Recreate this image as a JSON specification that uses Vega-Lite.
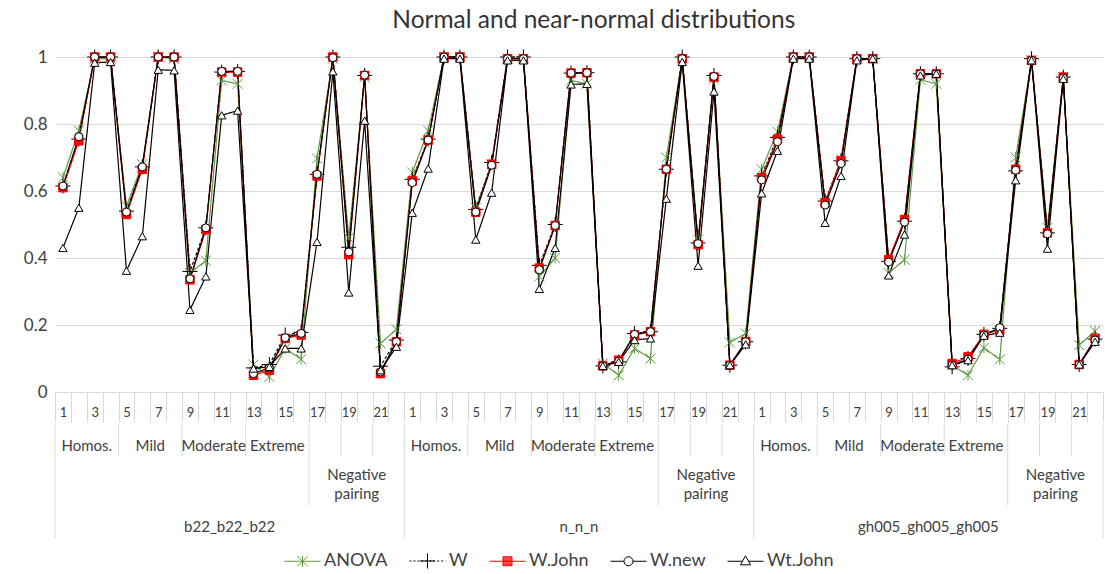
{
  "$schema": "https://vega.github.io/schema/vega-lite/v6.json",
  "padding": {"left": 5, "top": 8, "right": 0, "bottom": 0},
  "title": {"text": "Normal and near-normal distributions", "font": "Lato", "fontSize": 24.5, "fontWeight": "normal", "color": "#333333", "anchor": "middle", "dx": 39, "offset": 14},
  "datasets": {
    "vals": [
      {"idx":1,"ANOVA":0.64,"W":0.615,"WJohn":0.61,"Wnew":0.615,"WtJohn":0.43},
      {"idx":2,"ANOVA":0.78,"W":0.755,"WJohn":0.75,"Wnew":0.762,"WtJohn":0.55},
      {"idx":3,"ANOVA":0.995,"W":1,"WJohn":1,"Wnew":1,"WtJohn":0.983},
      {"idx":4,"ANOVA":0.995,"W":1,"WJohn":1,"Wnew":1,"WtJohn":0.985},
      {"idx":5,"ANOVA":0.555,"W":0.54,"WJohn":0.53,"Wnew":0.537,"WtJohn":0.362},
      {"idx":6,"ANOVA":0.68,"W":0.672,"WJohn":0.665,"Wnew":0.672,"WtJohn":0.465},
      {"idx":7,"ANOVA":1,"W":1,"WJohn":1,"Wnew":1,"WtJohn":0.962},
      {"idx":8,"ANOVA":0.995,"W":1,"WJohn":1,"Wnew":1,"WtJohn":0.96},
      {"idx":9,"ANOVA":0.355,"W":0.36,"WJohn":0.335,"Wnew":0.338,"WtJohn":0.245},
      {"idx":10,"ANOVA":0.392,"W":0.49,"WJohn":0.485,"Wnew":0.49,"WtJohn":0.345},
      {"idx":11,"ANOVA":0.93,"W":0.955,"WJohn":0.955,"Wnew":0.957,"WtJohn":0.826},
      {"idx":12,"ANOVA":0.92,"W":0.957,"WJohn":0.955,"Wnew":0.957,"WtJohn":0.84},
      {"idx":13,"ANOVA":0.082,"W":0.072,"WJohn":0.05,"Wnew":0.055,"WtJohn":0.07},
      {"idx":14,"ANOVA":0.045,"W":0.082,"WJohn":0.065,"Wnew":0.072,"WtJohn":0.075},
      {"idx":15,"ANOVA":0.13,"W":0.17,"WJohn":0.16,"Wnew":0.162,"WtJohn":0.13},
      {"idx":16,"ANOVA":0.098,"W":0.178,"WJohn":0.17,"Wnew":0.175,"WtJohn":0.13},
      {"idx":17,"ANOVA":0.697,"W":0.65,"WJohn":0.645,"Wnew":0.65,"WtJohn":0.448},
      {"idx":18,"ANOVA":0.995,"W":1,"WJohn":1,"Wnew":0.998,"WtJohn":0.957},
      {"idx":19,"ANOVA":0.46,"W":0.432,"WJohn":0.41,"Wnew":0.418,"WtJohn":0.297},
      {"idx":20,"ANOVA":0.94,"W":0.945,"WJohn":0.945,"Wnew":0.946,"WtJohn":0.81},
      {"idx":21,"ANOVA":0.145,"W":0.077,"WJohn":0.055,"Wnew":0.06,"WtJohn":0.065},
      {"idx":22,"ANOVA":0.187,"W":0.155,"WJohn":0.15,"Wnew":0.15,"WtJohn":0.135},
      {"idx":23,"ANOVA":0.655,"W":0.635,"WJohn":0.63,"Wnew":0.625,"WtJohn":0.535},
      {"idx":24,"ANOVA":0.78,"W":0.755,"WJohn":0.752,"Wnew":0.752,"WtJohn":0.667},
      {"idx":25,"ANOVA":1,"W":1,"WJohn":1,"Wnew":1,"WtJohn":0.995},
      {"idx":26,"ANOVA":1,"W":1,"WJohn":1,"Wnew":1,"WtJohn":0.995},
      {"idx":27,"ANOVA":0.55,"W":0.545,"WJohn":0.537,"Wnew":0.537,"WtJohn":0.455},
      {"idx":28,"ANOVA":0.68,"W":0.685,"WJohn":0.68,"Wnew":0.677,"WtJohn":0.595},
      {"idx":29,"ANOVA":0.995,"W":1,"WJohn":0.995,"Wnew":0.995,"WtJohn":0.99},
      {"idx":30,"ANOVA":0.995,"W":1,"WJohn":0.995,"Wnew":0.995,"WtJohn":0.99},
      {"idx":31,"ANOVA":0.345,"W":0.378,"WJohn":0.37,"Wnew":0.365,"WtJohn":0.308},
      {"idx":32,"ANOVA":0.4,"W":0.5,"WJohn":0.497,"Wnew":0.497,"WtJohn":0.43},
      {"idx":33,"ANOVA":0.93,"W":0.952,"WJohn":0.952,"Wnew":0.952,"WtJohn":0.918},
      {"idx":34,"ANOVA":0.92,"W":0.953,"WJohn":0.953,"Wnew":0.953,"WtJohn":0.92},
      {"idx":35,"ANOVA":0.085,"W":0.078,"WJohn":0.078,"Wnew":0.078,"WtJohn":0.078},
      {"idx":36,"ANOVA":0.05,"W":0.09,"WJohn":0.095,"Wnew":0.092,"WtJohn":0.09},
      {"idx":37,"ANOVA":0.13,"W":0.175,"WJohn":0.17,"Wnew":0.172,"WtJohn":0.155},
      {"idx":38,"ANOVA":0.1,"W":0.18,"WJohn":0.18,"Wnew":0.18,"WtJohn":0.16},
      {"idx":39,"ANOVA":0.7,"W":0.665,"WJohn":0.665,"Wnew":0.665,"WtJohn":0.577},
      {"idx":40,"ANOVA":0.995,"W":1,"WJohn":0.995,"Wnew":0.995,"WtJohn":0.985},
      {"idx":41,"ANOVA":0.455,"W":0.445,"WJohn":0.44,"Wnew":0.443,"WtJohn":0.377},
      {"idx":42,"ANOVA":0.935,"W":0.945,"WJohn":0.94,"Wnew":0.942,"WtJohn":0.897},
      {"idx":43,"ANOVA":0.148,"W":0.08,"WJohn":0.08,"Wnew":0.08,"WtJohn":0.08},
      {"idx":44,"ANOVA":0.175,"W":0.15,"WJohn":0.15,"Wnew":0.15,"WtJohn":0.142},
      {"idx":45,"ANOVA":0.665,"W":0.645,"WJohn":0.64,"Wnew":0.633,"WtJohn":0.593},
      {"idx":46,"ANOVA":0.777,"W":0.76,"WJohn":0.755,"Wnew":0.747,"WtJohn":0.72},
      {"idx":47,"ANOVA":1,"W":1,"WJohn":1,"Wnew":1,"WtJohn":0.995},
      {"idx":48,"ANOVA":1,"W":1,"WJohn":1,"Wnew":1,"WtJohn":0.995},
      {"idx":49,"ANOVA":0.565,"W":0.57,"WJohn":0.565,"Wnew":0.558,"WtJohn":0.505},
      {"idx":50,"ANOVA":0.695,"W":0.69,"WJohn":0.69,"Wnew":0.682,"WtJohn":0.645},
      {"idx":51,"ANOVA":0.995,"W":0.995,"WJohn":0.995,"Wnew":0.995,"WtJohn":0.99},
      {"idx":52,"ANOVA":0.995,"W":0.995,"WJohn":0.995,"Wnew":0.995,"WtJohn":0.995},
      {"idx":53,"ANOVA":0.355,"W":0.39,"WJohn":0.395,"Wnew":0.388,"WtJohn":0.348},
      {"idx":54,"ANOVA":0.395,"W":0.51,"WJohn":0.515,"Wnew":0.507,"WtJohn":0.47},
      {"idx":55,"ANOVA":0.932,"W":0.95,"WJohn":0.95,"Wnew":0.95,"WtJohn":0.945},
      {"idx":56,"ANOVA":0.92,"W":0.95,"WJohn":0.95,"Wnew":0.95,"WtJohn":0.95},
      {"idx":57,"ANOVA":0.08,"W":0.075,"WJohn":0.085,"Wnew":0.08,"WtJohn":0.08},
      {"idx":58,"ANOVA":0.05,"W":0.1,"WJohn":0.105,"Wnew":0.098,"WtJohn":0.095},
      {"idx":59,"ANOVA":0.132,"W":0.172,"WJohn":0.172,"Wnew":0.17,"WtJohn":0.168},
      {"idx":60,"ANOVA":0.097,"W":0.19,"WJohn":0.185,"Wnew":0.192,"WtJohn":0.177},
      {"idx":61,"ANOVA":0.7,"W":0.66,"WJohn":0.665,"Wnew":0.662,"WtJohn":0.632},
      {"idx":62,"ANOVA":0.99,"W":0.995,"WJohn":0.99,"Wnew":0.99,"WtJohn":0.99},
      {"idx":63,"ANOVA":0.49,"W":0.475,"WJohn":0.475,"Wnew":0.472,"WtJohn":0.428},
      {"idx":64,"ANOVA":0.94,"W":0.94,"WJohn":0.94,"Wnew":0.937,"WtJohn":0.935},
      {"idx":65,"ANOVA":0.14,"W":0.082,"WJohn":0.082,"Wnew":0.082,"WtJohn":0.082},
      {"idx":66,"ANOVA":0.182,"W":0.158,"WJohn":0.16,"Wnew":0.155,"WtJohn":0.15}
    ],
    "cats": [
      {"kind":"sep","idx":1,"depth":3.5},{"kind":"sep","idx":5,"depth":1},{"kind":"sep","idx":9,"depth":1},{"kind":"sep","idx":13,"depth":1},{"kind":"sep","idx":17,"depth":2.5},{"kind":"sep","idx":19,"depth":1},{"kind":"sep","idx":21,"depth":1},
      {"kind":"sep","idx":23,"depth":3.5},{"kind":"sep","idx":27,"depth":1},{"kind":"sep","idx":31,"depth":1},{"kind":"sep","idx":35,"depth":1},{"kind":"sep","idx":39,"depth":2.5},{"kind":"sep","idx":41,"depth":1},{"kind":"sep","idx":43,"depth":1},
      {"kind":"sep","idx":45,"depth":3.5},{"kind":"sep","idx":49,"depth":1},{"kind":"sep","idx":53,"depth":1},{"kind":"sep","idx":57,"depth":1},{"kind":"sep","idx":61,"depth":2.5},{"kind":"sep","idx":63,"depth":1},{"kind":"sep","idx":65,"depth":1},
      {"kind":"end","idx":66,"depth":3.5},
      {"kind":"lab","idx":3,"depth":1,"label":"Homos."},{"kind":"lab","idx":7,"depth":1,"label":"Mild"},{"kind":"lab","idx":11,"depth":1,"label":"Moderate"},{"kind":"lab","idx":15,"depth":1,"label":"Extreme"},{"kind":"lab","idx":20,"depth":2.5,"label":"Negative\npairing"},{"kind":"lab","idx":12,"depth":3.5,"label":"b22_b22_b22"},
      {"kind":"lab","idx":25,"depth":1,"label":"Homos."},{"kind":"lab","idx":29,"depth":1,"label":"Mild"},{"kind":"lab","idx":33,"depth":1,"label":"Moderate"},{"kind":"lab","idx":37,"depth":1,"label":"Extreme"},{"kind":"lab","idx":42,"depth":2.5,"label":"Negative\npairing"},{"kind":"lab","idx":34,"depth":3.5,"label":"n_n_n"},
      {"kind":"lab","idx":47,"depth":1,"label":"Homos."},{"kind":"lab","idx":51,"depth":1,"label":"Mild"},{"kind":"lab","idx":55,"depth":1,"label":"Moderate"},{"kind":"lab","idx":59,"depth":1,"label":"Extreme"},{"kind":"lab","idx":64,"depth":2.5,"label":"Negative\npairing"},{"kind":"lab","idx":56,"depth":3.5,"label":"gh005_gh005_gh005"}
    ]
  },
  "spacing": 0,
  "resolve": {"scale": {"color": "independent", "fill": "independent", "shape": "independent", "size": "independent", "strokeDash": "independent"}},
  "vconcat": [
    {
      "width": 1048,
      "height": 335,
      "data": {"name": "vals"},
      "transform": [{"fold": ["ANOVA", "W", "WJohn", "Wnew", "WtJohn"], "as": ["series", "value"]}],
      "encoding": {
        "x": {
          "field": "idx", "type": "ordinal",
          "scale": {"type": "band", "paddingInner": 0, "paddingOuter": 0},
          "axis": {
            "title": null, "orient": "bottom", "tickBand": "extent", "tickSize": 30, "tickColor": "#d9d9d9", "tickWidth": 1,
            "domainColor": "#d9d9d9", "grid": false, "labelAngle": 0, "labelOverlap": false,
            "labelExpr": "(datum.value - 1) % 22 % 2 == 0 ? '' + ((datum.value - 1) % 22 + 1) : ''",
            "labelFont": "Lato", "labelFontSize": 13, "labelColor": "#404040", "labelPadding": -16,
            "minExtent": 30, "maxExtent": 30
          }
        },
        "y": {
          "field": "value", "type": "quantitative",
          "scale": {"domain": [0, 1], "nice": false},
          "axis": {
            "title": null, "values": [0, 0.2, 0.4, 0.6, 0.8, 1], "format": "~g", "grid": true, "gridColor": "#d9d9d9",
            "domain": false, "ticks": false, "labelFont": "Lato", "labelFontSize": 17, "labelColor": "#404040",
            "labelPadding": 8, "minExtent": 50, "maxExtent": 50
          }
        },
        "color": {
          "field": "series", "type": "nominal",
          "scale": {"domain": ["ANOVA", "W", "WJohn", "Wnew", "WtJohn"], "range": ["#5c9b42", "#000000", "#ff0000", "#000000", "#000000"]},
          "legend": null
        }
      },
      "layer": [
        {
          "mark": {"type": "line", "strokeWidth": 1.2},
          "encoding": {
            "strokeDash": {
              "field": "series", "type": "nominal",
              "scale": {"domain": ["ANOVA", "W", "WJohn", "Wnew", "WtJohn"], "range": [[1, 0], [3, 2], [1, 0], [1, 0], [1, 0]]},
              "legend": null
            }
          }
        },
        {
          "mark": {"type": "point", "filled": false, "strokeWidth": 1, "opacity": 1},
          "encoding": {
            "shape": {
              "field": "series", "type": "nominal",
              "scale": {"domain": ["ANOVA", "W", "WJohn", "Wnew", "WtJohn"], "range": ["M-1,-1L1,1M-1,1L1,-1M0,-1.1V1.1", "M-1,0H1M0,-1V1", "square", "circle", "triangle-up"]},
              "legend": null
            },
            "size": {
              "field": "series", "type": "nominal",
              "scale": {"type": "ordinal", "domain": ["ANOVA", "W", "WJohn", "Wnew", "WtJohn"], "range": [100, 225, 72, 64, 70]},
              "legend": null
            },
            "fill": {
              "field": "series", "type": "nominal",
              "scale": {"domain": ["ANOVA", "W", "WJohn", "Wnew", "WtJohn"], "range": ["transparent", "transparent", "#ff0000", "#ffffff", "#ffffff"]},
              "legend": null
            }
          }
        }
      ]
    },
    {
      "width": 1048,
      "height": 114,
      "encoding": {
        "x": {
          "field": "idx", "type": "ordinal",
          "scale": {"type": "band", "paddingInner": 0, "paddingOuter": 0, "domain": [1,2,3,4,5,6,7,8,9,10,11,12,13,14,15,16,17,18,19,20,21,22,23,24,25,26,27,28,29,30,31,32,33,34,35,36,37,38,39,40,41,42,43,44,45,46,47,48,49,50,51,52,53,54,55,56,57,58,59,60,61,62,63,64,65,66]},
          "axis": null
        }
      },
      "layer": [
        {
          "data": {"name": "cats"},
          "transform": [{"filter": "datum.kind === 'sep'"}],
          "mark": {"type": "rule", "color": "#d9d9d9", "strokeWidth": 1},
          "encoding": {
            "x": {"field": "idx", "type": "ordinal", "bandPosition": 0, "axis": null},
            "y": {"field": "depth", "type": "quantitative", "scale": {"domain": [0, 3.5], "reverse": true, "nice": false, "zero": false}, "axis": null},
            "y2": {"datum": 0}
          }
        },
        {
          "data": {"name": "cats"},
          "transform": [{"filter": "datum.kind === 'end'"}],
          "mark": {"type": "rule", "color": "#d9d9d9", "strokeWidth": 1},
          "encoding": {
            "x": {"field": "idx", "type": "ordinal", "bandPosition": 1, "axis": null},
            "y": {"field": "depth", "type": "quantitative", "axis": null},
            "y2": {"datum": 0}
          }
        },
        {
          "data": {"name": "cats"},
          "transform": [{"filter": "datum.kind === 'lab' && datum.depth !== 2.5"}],
          "mark": {"type": "text", "font": "Lato", "fontSize": 15, "color": "#404040", "align": "center", "baseline": "bottom", "dy": -3},
          "encoding": {
            "x": {"field": "idx", "type": "ordinal", "bandPosition": 0, "axis": null},
            "y": {"field": "depth", "type": "quantitative", "axis": null},
            "text": {"field": "label"}
          }
        },
        {
          "data": {"name": "cats"},
          "transform": [{"filter": "datum.kind === 'lab' && datum.depth === 2.5"}],
          "mark": {"type": "text", "font": "Lato", "fontSize": 15, "color": "#404040", "align": "center", "baseline": "bottom", "dy": -22, "lineBreak": "\n", "lineHeight": 19},
          "encoding": {
            "x": {"field": "idx", "type": "ordinal", "bandPosition": 0, "axis": null},
            "y": {"field": "depth", "type": "quantitative", "axis": null},
            "text": {"field": "label"}
          }
        },
        {
          "data": {"name": "vals"},
          "transform": [{"fold": ["ANOVA", "W", "WJohn", "Wnew", "WtJohn"], "as": ["series", "value"]}],
          "mark": {"type": "point", "filled": false, "strokeWidth": 1},
          "encoding": {
            "opacity": {"value": 0},
            "shape": {
              "field": "series", "type": "nominal",
              "scale": {
                "domain": ["ANOVA", "W", "WJohn", "Wnew", "WtJohn"],
                "range": [
                  "M-1,0H1M-0.28,-0.28L0.28,0.28M-0.28,0.28L0.28,-0.28M0,-0.3V0.3",
                  "M-1,0H-0.89M-0.78,0H-0.67M-0.56,0H-0.45M-0.34,0H-0.23M-0.12,0H-0.01M0.1,0H0.21M0.32,0H0.43M0.54,0H0.65M0.76,0H0.87M0.98,0H1M-0.42,0H0.42M0,-0.42V0.42",
                  "M-1,0H1M-0.25,-0.25H0.25V0.25H-0.25ZM-0.25,-0.19H0.25M-0.25,-0.13H0.25M-0.25,-0.07H0.25M-0.25,-0.02H0.25M-0.25,0.04H0.25M-0.25,0.1H0.25M-0.25,0.16H0.25M-0.25,0.21H0.25",
                  "M-1,0H-0.25M0.25,0H1M0.25,0A0.25,0.25,0,1,1,-0.25,0A0.25,0.25,0,1,1,0.25,0Z",
                  "M-1,0H-0.17M0.17,0H1M0,-0.3L0.28,0.2L-0.28,0.2Z"
                ]
              },
              "legend": {
                "title": null, "orient": "none", "legendX": 229, "legendY": 118, "direction": "horizontal",
                "symbolSize": 1296, "symbolStrokeWidth": 1, "symbolOpacity": 1,
                "symbolStrokeColor": {"expr": "datum.value === 'ANOVA' ? '#5c9b42' : (datum.value === 'WJohn' ? '#ff0000' : '#000000')"},
                "labelExpr": "datum.label == 'WJohn' ? 'W.John' : (datum.label == 'Wnew' ? 'W.new' : (datum.label == 'WtJohn' ? 'Wt.John' : datum.label))",
                "labelFont": "Lato", "labelFontSize": 18, "labelColor": "#404040", "labelOffset": 3, "columnPadding": 19
              }
            }
          }
        }
      ]
    }
  ],
  "config": {"view": {"stroke": null}, "font": "Lato"}
}
